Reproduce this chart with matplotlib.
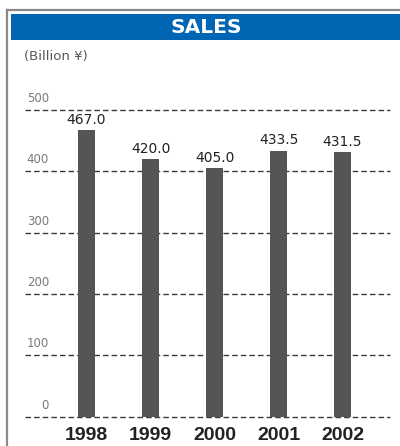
import matplotlib
matplotlib.use("Agg")
import matplotlib.pyplot as plt
from matplotlib.patches import Rectangle
from matplotlib.lines import Line2D
from matplotlib.transforms import blended_transform_factory

# Data
years = ["1998", "1999", "2000", "2001", "2002"]
sales = [467.0, 420.0, 405.0, 433.5, 431.5]
y_ticks = [0, 100, 200, 300, 400, 500]
title = "SALES"
unit_label = "(Billion ¥)"

W, H = 400, 446
fig = plt.figure(figsize=(W / 100, H / 100), dpi=100)
fig.patch.set_facecolor("white")

def fx(px):
    return px / W

def fy(py):
    return 1 - py / H

# Frame: top and left rules
fig.add_artist(Line2D([fx(7), fx(400)], [fy(9.5), fy(9.5)], color="#8a8a8a", lw=1.6))
fig.add_artist(Line2D([fx(7), fx(7)], [fy(9.5), fy(446)], color="#8a8a8a", lw=1.6))

# Title band
fig.add_artist(Rectangle((fx(11), fy(40)), fx(400) - fx(11), fy(14) - fy(40),
                         transform=fig.transFigure, facecolor="#0066b3",
                         edgecolor="none"))
fig.text(fx(206.5), fy(27.5), title, color="white", fontsize=14.5,
         fontweight="heavy", ha="center", va="center",
         family=["DejaVu Sans"])

fig.text(fx(23.5), fy(56.5), unit_label, color="#555555", fontsize=9.5,
         ha="left", va="center")

# Plot area
left_px, right_px = 25, 390
zero_px, top_px = 416.5, 110
ax = fig.add_axes([fx(left_px), fy(zero_px), fx(right_px) - fx(left_px),
                   fy(top_px) - fy(zero_px)])
ax.set_facecolor("none")
x = list(range(len(years)))
step = 64.0
ax.set_xlim((left_px - 86.5) / step, (right_px - 86.5) / step)
ax.set_ylim(0, 500)
for s in ax.spines.values():
    s.set_visible(False)
ax.set_xticks([])
ax.set_yticks([])

for t in y_ticks:
    ax.axhline(t, color="#3a3a3a", lw=1.0, ls=(0, (4, 2.2)), zorder=1,
               clip_on=False)

ax.bar(x, sales, width=17 / step, color="#555557", zorder=2)

trans = blended_transform_factory(ax.transAxes, ax.transData)
for t in y_ticks:
    ax.annotate(str(t), xy=((49 - left_px) / (right_px - left_px), t),
                xycoords=trans, xytext=(0, 3.5), textcoords="offset points",
                ha="right", va="bottom", fontsize=8.5, color="#7a7a7a")

for xi, v in zip(x, sales):
    ax.annotate(f"{v:.1f}", xy=(xi, v), xytext=(0, 2.5),
                textcoords="offset points", ha="center", va="bottom",
                fontsize=10, color="#222222")

for xi, yr in zip(x, years):
    ax.annotate(yr, xy=(xi, 0), xytext=(0, -7.5), textcoords="offset points",
                ha="center", va="top", fontsize=14, fontweight="bold",
                color="#222222",
                family=["Liberation Sans", "DejaVu Sans"])

fig.savefig("out.png", dpi=100, facecolor="white")
